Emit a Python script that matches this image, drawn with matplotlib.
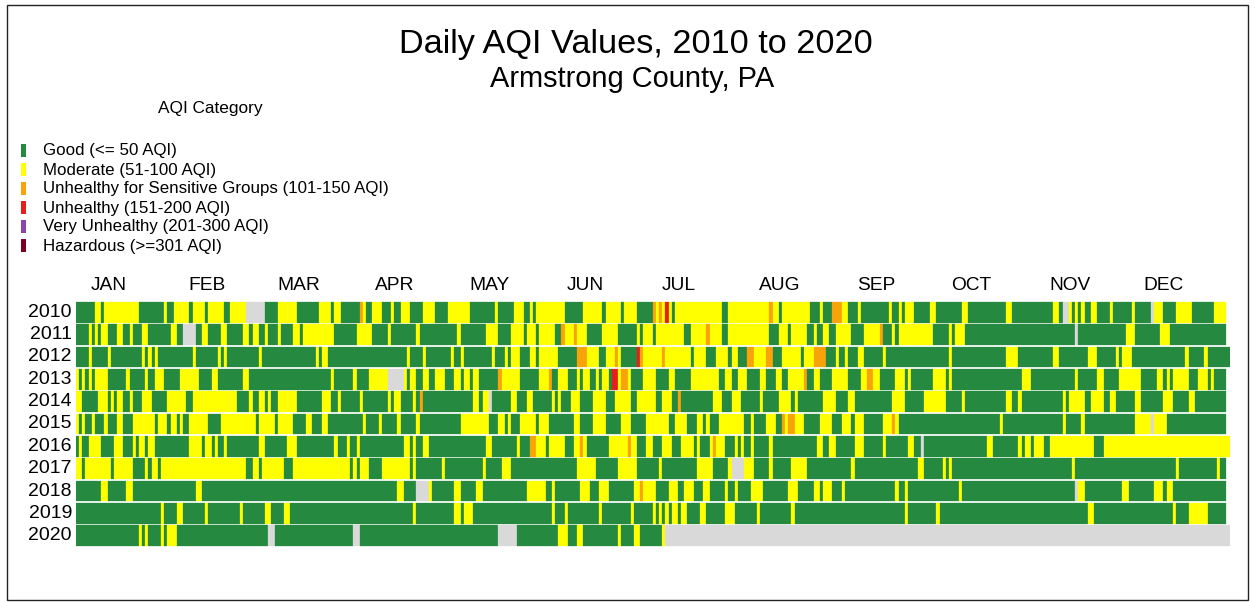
import numpy as np
import matplotlib
matplotlib.use("Agg")
import matplotlib.pyplot as plt
from matplotlib.patches import Rectangle
import matplotlib.transforms as mtransforms

plt.rcParams['font.family'] = ['Liberation Sans', 'DejaVu Sans']

# ---------------- DATA ----------------
# Daily AQI category per year, run-length encoded:
# each token = category letter + day-of-year where that run ends (exclusive)
# G=Good, M=Moderate, O=Unhealthy for Sensitive Groups, R=Unhealthy,
# P=Very Unhealthy, H=Hazardous, N=no data
years = [2010, 2011, 2012, 2013, 2014, 2015, 2016, 2017, 2018, 2019, 2020]

runs_2010 = ("G6 M8 G9 M20 G28 M29 G31 M36 G37 M41 G42 M47 G49 M54 N60 G64 M70 G77 M81 G82 M84 G90 O91 M92 "
             "G94 M97 G100 M101 G103 M106 G110 M114 G118 M125 G133 M134 G139 M142 G144 M145 G146 M155 G161 "
             "M167 G168 M173 G174 M178 G183 O184 M185 O186 M187 R188 M189 G190 M205 G207 M220 O221 M223 G224 "
             "M233 G236 M237 G240 O243 M245 G248 M249 G258 M259 G261 M262 G263 M266 G271 M273 G281 M283 G295 "
             "M297 G310 M312 G313 N315 M316 G317 M318 G319 M320 G322 M324 G328 M329 G335 M336 G341 N342 M345 "
             "G349 M354 G361 M365")
runs_2011 = ("G4 M5 G6 M7 G8 M10 G13 M15 G17 M18 G21 M23 G30 M32 G34 N38 G40 M42 G46 M48 G53 M55 G56 M58 G60 "
             "M61 G64 M65 G69 M71 G72 M82 G89 M94 G99 M100 G108 M109 G121 M122 G130 M134 G138 M142 G143 M146 "
             "G147 M152 G154 O155 M158 O159 M162 G167 M172 G178 M179 G180 M183 G184 M193 G195 M200 O201 M205 "
             "G207 M220 G223 M226 G227 M232 G234 M235 G237 M239 G241 M246 G250 M255 O256 G259 M260 G261 M272 "
             "G277 M278 G279 M282 G317 N318 G333 M336 G344 M347 G365")
runs_2012 = ("G4 M5 G10 M11 G21 M22 G23 M24 G25 M26 G37 M38 G45 M46 G47 M48 G58 M59 G76 M77 G78 M80 G105 M106 "
             "G110 M111 G119 M120 G122 M123 G132 M133 G136 M137 G138 M141 G144 M146 G147 M153 G159 O162 M166 "
             "G168 M171 O172 M173 G178 R179 O180 M186 O187 M195 G196 M200 G203 M207 G208 M210 G213 O215 M219 "
             "O221 G224 M230 G231 M234 O238 G241 M242 G244 M245 G248 M250 G256 M257 G277 M278 G295 M299 G310 "
             "M312 G321 M324 G330 M331 G332 M335 G352 M353 G358 M359 G366")
runs_2013 = ("M1 G2 M3 G4 M5 G6 M10 G16 M17 G22 M23 G25 M28 G33 M39 G43 M45 G53 M55 G81 M82 G88 M89 G93 M99 "
             "N104 M105 G106 M108 G110 M112 G114 M117 G120 M122 G123 M125 G126 M128 G134 O135 M141 G147 M150 "
             "O151 G153 M156 G159 M160 G161 M163 G165 M166 G167 M169 G170 R172 M173 O175 M176 G180 M184 G188 "
             "M190 G195 M204 G206 M208 G210 M213 G217 M219 G222 M224 G226 M231 O232 G234 M236 G240 M245 G249 "
             "M251 O253 M255 G260 M263 G264 M265 G272 M276 G277 M278 G300 M303 G317 M318 G324 M326 G331 M338 "
             "G343 M345 G346 M347 G348 M353 G356 M359 G360 M361 G365")
runs_2014 = ("M2 G7 M10 G11 M12 G13 M15 G17 M18 G21 M24 G29 M35 G37 M51 G55 M56 G58 M60 G61 M62 G64 M70 G78 "
             "M81 G83 M84 G90 M91 G99 M100 G101 M103 G107 M108 G109 O110 G126 M128 G129 M131 N132 G138 M140 "
             "G143 M145 G151 M152 G153 M154 G157 M160 G164 M168 G171 M176 G178 M184 G186 M189 G191 O192 G202 "
             "M205 G208 M211 G217 M218 G223 M227 G228 M229 G237 M241 G245 M247 G259 M263 G269 M276 G281 M282 "
             "G295 M297 G299 M300 G313 M314 G315 M320 G322 M326 G328 M330 G336 M338 G345 M348 G353 M355 G365")
runs_2015 = ("M1 G2 M3 G5 M6 G9 M10 G13 M15 G18 M25 G26 M29 G30 M32 G33 M34 G36 M42 G46 M57 G58 M63 G64 M69 "
             "G73 M75 G78 M80 G91 M92 G96 M97 G102 M103 G108 M109 G122 M131 G134 M136 G137 M138 G141 M146 G147 "
             "M150 G158 M160 G164 M168 G173 M176 G181 M188 G190 M194 G197 M199 G200 M201 G204 M212 G214 M215 "
             "G219 M222 G224 O225 M226 O228 M231 G236 M240 G243 M246 G247 M250 G256 M259 O260 M261 G293 M294 "
             "G313 M314 G319 M320 G336 M341 N342 M346 G365")
runs_2016 = ("G1 M2 G4 M8 G12 M15 G18 M19 G20 M22 G23 M25 G36 M40 G41 M43 G44 M45 G47 M48 G58 M60 G67 M70 G82 "
             "M83 G86 M87 G89 M90 G104 M106 G107 M108 G110 M112 G130 M132 G140 M141 G144 O146 M149 G150 M155 "
             "G158 M160 O161 M162 G169 M175 O176 M178 G181 M183 G186 M189 G192 M196 G197 M198 G201 M202 O203 "
             "M206 G209 M210 G211 M212 G214 M215 G220 M221 G235 M237 G239 M241 G247 M250 G256 M257 G264 M266 "
             "G268 N269 G289 M291 G299 M300 G301 M303 G304 M307 G309 M323 G326 M366")
runs_2017 = ("M2 G3 M11 G12 M18 G22 M23 G24 M26 G27 M54 G56 M58 G59 M66 G69 M87 G88 M89 G90 M93 G97 M106 G107 "
             "M108 G116 M117 G129 M130 G135 M138 G159 M165 G172 M178 G185 M186 G197 M202 G207 M208 N212 M215 "
             "G220 M221 G227 M232 G246 M247 G267 M269 G275 M276 G277 M278 G316 M317 G349 M350 G362 M363 G365")
runs_2018 = ("G8 M10 G16 M18 G38 M40 G102 M104 G108 N112 M113 G120 M122 G127 M129 G143 M149 G151 M152 G160 M163 "
             "G166 M169 G177 M179 O180 M184 G188 M191 G193 M196 G199 M201 G206 M207 G209 M210 G214 M218 G226 "
             "M229 G234 M236 G237 M240 G243 M244 G260 M261 G263 M264 G280 M281 G317 N318 M320 G332 M334 G342 "
             "M345 G346 M348 G365")
runs_2019 = ("G27 M28 G32 M34 G41 M42 G52 M53 G60 M62 G66 M68 G107 M108 G120 M122 G123 M126 G151 M152 G155 M156 "
             "G166 M167 G176 M177 G183 M184 G185 M186 G187 M188 G189 M191 G192 M194 G198 M200 G206 M209 G216 "
             "M217 G227 M228 G263 M264 G273 M274 G321 M323 G348 M349 G353 M359 G365")
runs_2020 = ("G20 M21 G22 M23 G27 M28 G29 M32 G61 N63 G88 N90 G134 N140 G153 M156 G159 M161 G172 M173 G177 M179 "
             "G186 M187 N366")

year_runs = [runs_2010, runs_2011, runs_2012, runs_2013, runs_2014, runs_2015,
             runs_2016, runs_2017, runs_2018, runs_2019, runs_2020]

category_codes = ['G', 'M', 'O', 'R', 'P', 'H', 'N']
category_labels = ['Good (<= 50 AQI)', 'Moderate (51-100 AQI)',
                   'Unhealthy for Sensitive Groups (101-150 AQI)', 'Unhealthy (151-200 AQI)',
                   'Very Unhealthy (201-300 AQI)', 'Hazardous (>=301 AQI)']
category_colors = ['#25893f', '#ffff00', '#f9a30a', '#e5201c', '#8e44ad', '#7e0023', '#d9d9d9']
month_labels = ['JAN', 'FEB', 'MAR', 'APR', 'MAY', 'JUN', 'JUL', 'AUG', 'SEP', 'OCT', 'NOV', 'DEC']

# ---------------- HELPERS ----------------
def expand(run_string, ndays):
    cats = np.full(ndays, 'N', dtype='<U1')
    start = 0
    for tok in run_string.split():
        c, end = tok[0], min(int(tok[1:]), ndays)
        if end > start:
            cats[start:end] = c
            start = end
    return cats

def runs_of(cats):
    out = []
    start = 0
    for i in range(1, len(cats) + 1):
        if i == len(cats) or cats[i] != cats[start]:
            out.append((cats[start], start, i - start))
            start = i
    return out

color_of = dict(zip(category_codes, category_colors))

# ---------------- FIGURE ----------------
W, H = 1255, 602
fig = plt.figure(figsize=(W / 100, H / 100), dpi=100)
ax = fig.add_axes([76 / W, 1 - 547 / H, 1153.6 / W, 246 / H])
ax.set_xlim(0, 366)
ax.set_ylim(len(years) - 0.5, -0.5)
ax.axis('off')

for row, (yr, rs) in enumerate(zip(years, year_runs)):
    ndays = int((np.datetime64(f'{yr + 1}-01-01') - np.datetime64(f'{yr}-01-01')).astype(int))
    cats = expand(rs, ndays)
    for c, start, length in runs_of(cats):
        ax.barh(row, length, left=start, height=0.93, color=color_of[c],
                edgecolor=color_of[c], linewidth=0.2)
    ax.text(-1.3, row, str(yr), ha='right', va='center', fontsize=14, color='black')

# month labels
month_starts = (np.array([f'2010-{m:02d}-01' for m in range(1, 13)], dtype='datetime64[D]')
                - np.datetime64('2010-01-01')).astype(int)
trans = mtransforms.blended_transform_factory(ax.transData, fig.transFigure)
for ms, lab in zip(month_starts, month_labels):
    ax.text(ms + 4.8, 1 - 286 / H, lab, ha='left', va='center', fontsize=13.8,
            transform=trans, color='black')

# titles
fig.text(636 / W, 1 - 44 / H, 'Daily AQI Values, 2010 to 2020', ha='center', va='center',
         fontsize=24.7, color='black')
fig.text(632 / W, 1 - 79 / H, 'Armstrong County, PA', ha='center', va='center',
         fontsize=20.9, color='black')

# legend
fig.text(210 / W, 1 - 108 / H, 'AQI Category', ha='center', va='center', fontsize=12.4)
for i, (lab, col) in enumerate(zip(category_labels, category_colors[:6])):
    yc = 150 + i * 19.0
    fig.patches.append(Rectangle((21 / W, 1 - (yc + 6.5) / H), 5 / W, 13 / H,
                                 transform=fig.transFigure, facecolor=col, edgecolor='none'))
    fig.text(43 / W, 1 - (yc + 1) / H, lab, ha='left', va='center', fontsize=12.2)

# outer frame
fig.patches.append(Rectangle((7 / W, 2 / H), 1241 / W, 595 / H, transform=fig.transFigure,
                             fill=False, edgecolor='#222222', linewidth=1.0))

fig.savefig('out.png', dpi=100, facecolor='white')
